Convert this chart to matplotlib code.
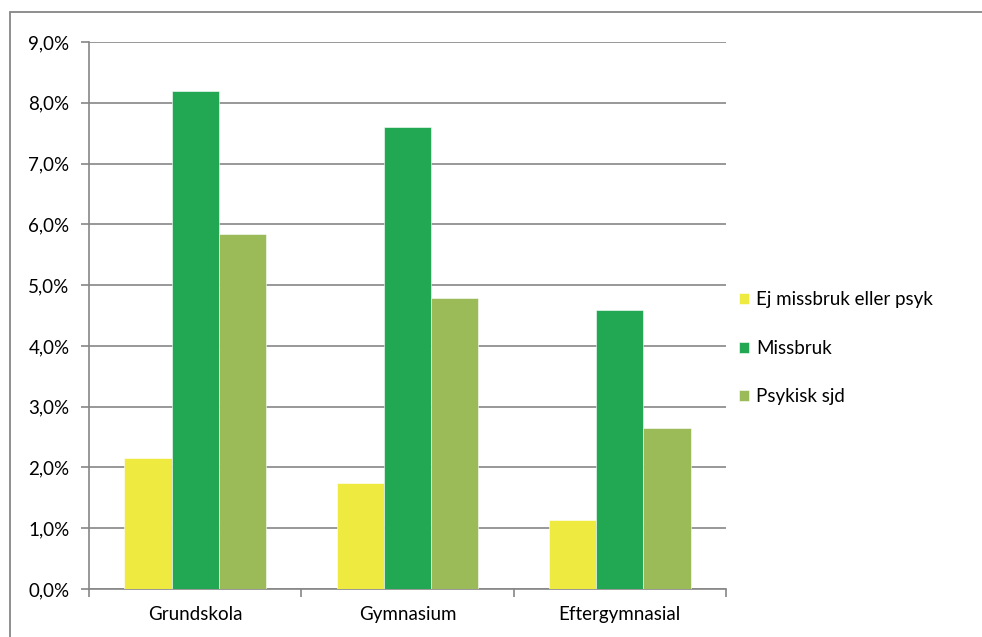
import numpy as np
import matplotlib
matplotlib.use("Agg")
import matplotlib.pyplot as plt
from matplotlib.ticker import FuncFormatter, FixedLocator
from matplotlib.patches import Rectangle

plt.rcParams['font.family'] = ['Lato', 'DejaVu Sans']

categories = ['Grundskola', 'Gymnasium', 'Eftergymnasial']
series = ['Ej missbruk eller psyk', 'Missbruk', 'Psykisk sjd']
ej_missbruk = [2.15, 1.74, 1.13]
missbruk = [8.20, 7.60, 4.59]
psykisk = [5.84, 4.79, 2.65]
colors = ['#EEEA40', '#22A852', '#9BBB59']

fig = plt.figure(figsize=(9.82, 6.37), dpi=100)
ax = fig.add_axes([89/982, 48/637, 637/982, 547/637])

# outer chart frame (runs past the right and bottom edge)
fig.patches.append(Rectangle((10/982, -0.05), 1.1, (637-12)/637 + 0.05,
                             transform=fig.transFigure, fill=False,
                             edgecolor='#868686', lw=1.3))

grey = '#868686'
fs = 13.5
x = np.arange(len(categories))
w = 1 / 4.5
for i, (vals, lab) in enumerate(zip([ej_missbruk, missbruk, psykisk], series)):
    ax.bar(x + (i - 1) * w, vals, w, color=colors[i], label=lab,
           edgecolor='white', linewidth=0.4, zorder=3)

ax.set_xlim(-0.5, 2.5)
ax.set_ylim(0, 9)
ax.set_yticks(np.arange(0, 10, 1))
ax.yaxis.set_major_formatter(FuncFormatter(lambda v, p: f'{v:.1f}%'.replace('.', ',')))
ax.grid(axis='y', color=grey, lw=1.2, zorder=0)

ax.set_xticks(x)
ax.set_xticklabels(categories)
ax.xaxis.set_minor_locator(FixedLocator([-0.5, 0.5, 1.5, 2.5]))
ax.tick_params(axis='x', which='major', length=0, pad=12, labelsize=fs)
ax.tick_params(axis='x', which='minor', length=6, color=grey, width=1.2)
ax.tick_params(axis='y', length=6, color=grey, width=1.2, pad=8, labelsize=fs)

for s in ['top', 'right']:
    ax.spines[s].set_visible(False)
for s in ['left', 'bottom']:
    ax.spines[s].set_color(grey)
    ax.spines[s].set_linewidth(1.2)

ax.legend(loc='center left', bbox_to_anchor=(1.0, 0.44), frameon=False,
          fontsize=fs, handlelength=0.55, handleheight=0.55, handletextpad=0.35,
          labelspacing=1.68, borderaxespad=0.3)

fig.savefig('out.png', dpi=100)
